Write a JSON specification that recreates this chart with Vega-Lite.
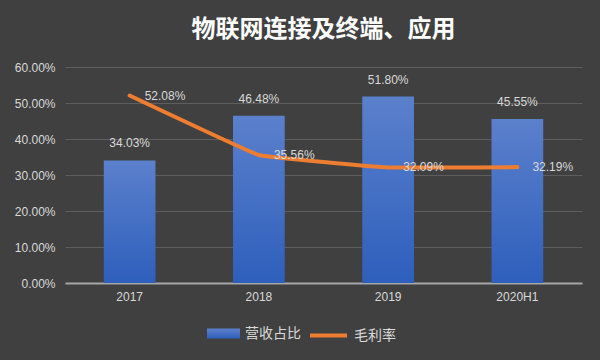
{
  "$schema": "https://vega.github.io/schema/vega-lite/v6.json",
  "width": 517,
  "height": 216,
  "autosize": {"type": "none"},
  "padding": {"left": 65, "top": 67, "right": 18, "bottom": 77},
  "background": "#404040",
  "title": {
    "text": "物联网连接及终端、应用",
    "font": "Noto Sans CJK SC",
    "fontSize": 24,
    "fontWeight": "bold",
    "color": "#ffffff",
    "anchor": "middle",
    "frame": "group",
    "offset": 19
  },
  "data": {
    "values": [
      {"year": "2017", "rev": 0.3403, "margin": 0.5208},
      {"year": "2018", "rev": 0.4648, "margin": 0.3556},
      {"year": "2019", "rev": 0.5180, "margin": 0.3209},
      {"year": "2020H1", "rev": 0.4555, "margin": 0.3219}
    ]
  },
  "encoding": {
    "x": {
      "field": "year",
      "type": "nominal",
      "sort": null,
      "scale": {"paddingInner": 0.6, "paddingOuter": 0.3},
      "axis": {
        "title": null,
        "labelAngle": 0,
        "labelColor": "#d9d9d9",
        "labelFont": "Liberation Sans",
        "labelFontSize": 12,
        "labelPadding": 8,
        "ticks": false,
        "domainColor": "#a6a6a6",
        "domainWidth": 2,
        "grid": false
      }
    }
  },
  "layer": [
    {
      "mark": {
        "type": "bar",
        "strokeOpacity": 0,
        "fill": {
          "gradient": "linear",
          "x1": 0, "y1": 0, "x2": 0, "y2": 1,
          "stops": [
            {"offset": 0, "color": "#5b80cc"},
            {"offset": 1, "color": "#2e5fbc"}
          ]
        }
      },
      "encoding": {
        "y": {
          "field": "rev",
          "type": "quantitative",
          "scale": {"domain": [0, 0.6], "nice": false},
          "axis": {
            "title": null,
            "format": ".2%",
            "tickCount": 12,
            "values": [0, 0.1, 0.2, 0.3, 0.4, 0.5, 0.6],
            "labelOverlap": false,
            "labelColor": "#d9d9d9",
            "labelFont": "Liberation Sans",
            "labelFontSize": 12,
            "labelPadding": 10,
            "ticks": false,
            "domain": false,
            "grid": true,
            "gridColor": "#5e5e5e",
            "gridWidth": 1
          }
        },
        "stroke": {
          "datum": "营收占比",
          "scale": {"range": ["#4472C4"]},
          "legend": {
            "title": null,
            "orient": "none",
            "legendX": 142,
            "legendY": 250,
            "padding": 0,
            "symbolType": "M-1,-0.3H1V0.3H-1Z",
            "symbolSize": 1089,
            "symbolStrokeWidth": 0,
            "symbolOpacity": 1,
            "labelOffset": 5,
            "labelColor": "#d9d9d9",
            "labelFont": "Noto Sans CJK SC",
            "labelFontSize": 14
          }
        }
      }
    },
    {
      "mark": {"type": "text", "baseline": "bottom", "dy": -10, "color": "#d9d9d9", "font": "Liberation Sans", "fontSize": 12},
      "encoding": {
        "y": {"field": "rev", "type": "quantitative"},
        "text": {"field": "rev", "type": "quantitative", "format": ".2%"}
      }
    },
    {
      "mark": {"type": "line", "strokeWidth": 4, "interpolate": "cardinal", "tension": 0.8, "strokeCap": "round", "strokeJoin": "round"},
      "encoding": {
        "y": {"field": "margin", "type": "quantitative"},
        "color": {
          "datum": "毛利率",
          "scale": {"range": ["#ED7D31"]},
          "legend": {
            "title": null,
            "orient": "none",
            "legendX": 243,
            "legendY": 248,
            "padding": 0,
            "symbolType": "stroke",
            "symbolSize": 1369,
            "symbolStrokeWidth": 4,
            "symbolOpacity": 1,
            "labelOffset": 5,
            "labelColor": "#d9d9d9",
            "labelFont": "Noto Sans CJK SC",
            "labelFontSize": 14
          }
        }
      }
    },
    {
      "mark": {"type": "text", "align": "left", "baseline": "middle", "dx": 15, "color": "#d9d9d9", "font": "Liberation Sans", "fontSize": 12},
      "encoding": {
        "y": {"field": "margin", "type": "quantitative"},
        "text": {"field": "margin", "type": "quantitative", "format": ".2%"}
      }
    }
  ],
  "config": {
    "view": {"stroke": null}
  }
}
